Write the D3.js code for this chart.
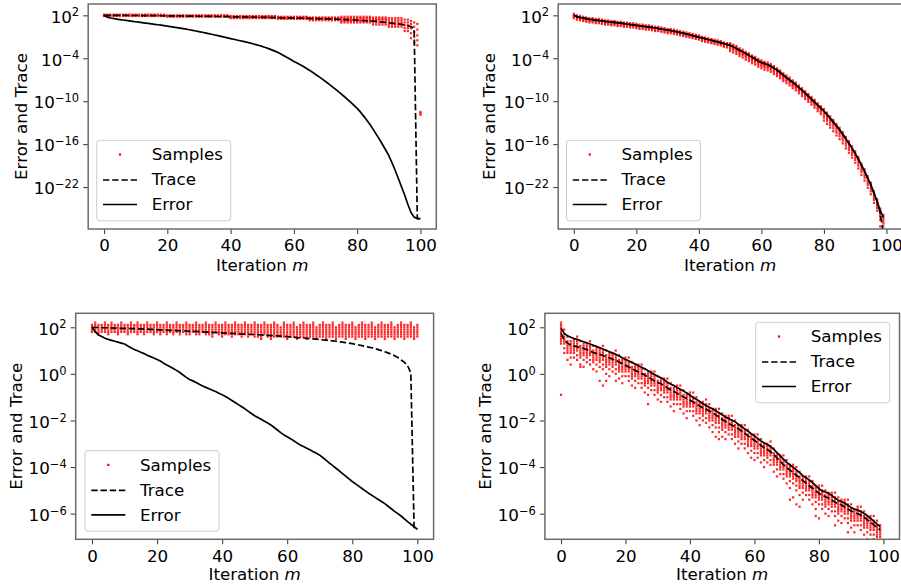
<!DOCTYPE html>
<html><head><meta charset="utf-8">
<script src="https://cdn.jsdelivr.net/npm/d3@7/dist/d3.min.js"></script>
<style>body{margin:0;background:#fff}svg{display:block}text{font-family:"DejaVu Sans",sans-serif;fill:#000}</style>
</head><body><svg id="c" width="901" height="588"></svg>
<script>
// ---------- data (log10 values, index = iteration m) ----------
const xTicks = [0, 20, 40, 60, 80, 100];
const yTicksTop = [2, -4, -10, -16, -22];      // exponents
const yTicksBottom = [2, 0, -2, -4, -6];       // exponents
const legendLabels = ["Samples", "Trace", "Error"];

// Panel A (top-left)
const errorA = [2.00,1.75,1.62,1.55,1.47,1.40,1.34,1.28,1.22,1.16,
1.10,1.04,0.98,0.92,0.86,0.80,0.74,0.68,0.62,0.56,
0.50,0.43,0.36,0.29,0.22,0.15,0.07,-0.02,-0.10,-0.19,
-0.28,-0.37,-0.46,-0.56,-0.65,-0.75,-0.85,-0.95,-1.05,-1.15,
-1.25,-1.35,-1.45,-1.55,-1.65,-1.75,-1.86,-1.98,-2.10,-2.22,
-2.35,-2.50,-2.66,-2.83,-3.01,-3.20,-3.44,-3.69,-3.94,-4.19,
-4.44,-4.67,-4.91,-5.16,-5.43,-5.70,-6.00,-6.30,-6.60,-6.92,
-7.25,-7.58,-7.92,-8.27,-8.63,-9.00,-9.38,-9.77,-10.17,-10.58,
-11.00,-11.50,-12.05,-12.62,-13.23,-13.90,-14.60,-15.30,-16.05,-16.82,
-17.60,-18.60,-19.65,-20.80,-21.95,-23.10,-24.40,-25.55,-26.20,-26.40,-26.40];
const traceA = [2.00,2.00,1.99,1.99,1.99,1.98,1.98,1.98,1.97,1.97,
1.97,1.97,1.96,1.96,1.96,1.95,1.95,1.94,1.94,1.93,
1.93,1.92,1.92,1.91,1.91,1.90,1.89,1.89,1.88,1.88,
1.87,1.86,1.86,1.85,1.84,1.84,1.83,1.82,1.81,1.81,
1.80,1.79,1.78,1.78,1.77,1.76,1.75,1.74,1.73,1.73,
1.72,1.71,1.70,1.69,1.68,1.67,1.66,1.65,1.64,1.63,
1.62,1.61,1.60,1.59,1.58,1.56,1.55,1.54,1.53,1.51,
1.50,1.49,1.47,1.46,1.44,1.43,1.41,1.39,1.37,1.35,
1.32,1.30,1.27,1.24,1.21,1.18,1.14,1.10,1.05,1.00,
0.95,0.90,0.85,0.80,0.73,0.65,0.55,0.42,0.10,-26.40,-26.40];
const samplesA = [
[2.1,2,1.9],[2.1,2,1.9],[2.1,2,1.9],[2.1,2,1.9],[2.1,2,1.9],[2.1,2,1.9],[2.1,2,1.9],[2.1,2,1.9],[2.1,2,1.9],[2.1,2,1.9],
[2.1,2,1.9],[2.1,2,1.9],[2.1,2,1.9],[2.1,2,1.9],[2.1,2,1.9],[2.1,2,1.9],[2.1,2,1.9],[2.1,2,1.9],[2.1,2,1.9],[2.1,2,1.9],
[2,1.9,1.8],[2,1.9,1.8],[2,1.9,1.8],[2,1.9,1.8],[2,1.9,1.8],[2,1.9,1.8],[2,1.9,1.8],[2,1.9,1.8],[2,1.9,1.8],[2,1.9,1.8],
[2,1.9,1.8],[2,1.9,1.8],[2,1.9,1.8],[2,1.9,1.8],[2,1.9,1.8],[2,1.9,1.8],[2,1.9,1.8],[2,1.9,1.8],[2,1.9,1.8],[2,1.9,1.8],
[1.9,1.8,1.7,1.6],[1.9,1.8,1.7,1.6],[1.9,1.8,1.7,1.6],[1.9,1.8,1.7,1.6],[1.9,1.8,1.7,1.6],[1.9,1.8,1.7,1.6],[1.9,1.8,1.7,1.6],[1.9,1.8,1.7,1.6],[1.9,1.8,1.7,1.6],[1.9,1.8,1.7,1.6],
[1.9,1.8,1.7,1.6],[1.9,1.8,1.7,1.6],[1.9,1.8,1.7,1.6],[1.9,1.8,1.7,1.6],[1.9,1.8,1.7,1.6],[1.8,1.7,1.6,1.5],[1.8,1.7,1.6,1.5],[1.8,1.7,1.6,1.5],[1.8,1.7,1.6,1.5],[1.8,1.7,1.6,1.5],
[1.8,1.7,1.6,1.5],[1.8,1.7,1.6,1.5],[1.8,1.7,1.6,1.5],[1.8,1.7,1.6,1.5],[1.8,1.7,1.6,1.5],[1.7,1.6,1.5,1.3],[1.7,1.6,1.5,1.3],[1.7,1.6,1.5,1.3],[1.7,1.6,1.5,1.3],[1.7,1.6,1.5,1.3],
[1.7,1.6,1.5,1.3],[1.7,1.6,1.5,1.3],[1.7,1.6,1.5,1.3],[1.7,1.6,1.5,1.3],[1.7,1.6,1.5,1.3],[1.8,1.6,1.4,1.2,1.0],[1.8,1.6,1.4,1.2,1.0],[1.8,1.6,1.4,1.2,1.0],[1.8,1.6,1.4,1.2,1.0],[1.8,1.6,1.4,1.2,1.0],
[1.8,1.6,1.4,1.2,1.0],[1.8,1.6,1.4,1.2,1.0],[1.8,1.6,1.4,1.2,1.0],[1.8,1.6,1.4,1.2,1.0],[1.8,1.6,1.4,1.2,1.0],[1.7,1.5,1.3,1.0,0.7],[1.7,1.5,1.3,1.0,0.7],[1.7,1.5,1.3,1.0,0.7],[1.7,1.5,1.3,1.0,0.7],[1.7,1.5,1.3,1.0,0.7],
[1.6,1.3,1.0,0.7,0.4],[1.6,1.3,1.0,0.7,0.4],[1.6,1.3,1.0,0.7,0.4],[1.6,1.3,1.0,0.7,0.4],[1.6,1.3,1.0,0.7,0.4],[1.4,1.0,0.6,0.2,-0.2],[1.4,1.0,0.6,0.2,-0.2],[1.2,0.8,0.2,-0.5,-1.2],[1.0,0.4,-0.3,-1.0,-1.8],[0.8,0.0,-0.8,-1.5,-2.2],
[-11.5,-11.7,-11.9]];

// Panel B (top-right)
const errorB = [2.00,1.80,1.70,1.61,1.53,1.45,1.39,1.33,1.27,1.21,
1.15,1.10,1.05,1.00,0.95,0.90,0.84,0.78,0.72,0.66,
0.60,0.54,0.48,0.42,0.36,0.30,0.23,0.16,0.09,0.02,
-0.05,-0.14,-0.23,-0.32,-0.41,-0.50,-0.61,-0.72,-0.83,-0.94,
-1.05,-1.16,-1.27,-1.38,-1.49,-1.60,-1.71,-1.83,-1.95,-2.07,
-2.20,-2.42,-2.64,-2.87,-3.11,-3.35,-3.60,-3.86,-4.12,-4.38,
-4.60,-4.75,-4.92,-5.12,-5.38,-5.65,-6.00,-6.35,-6.70,-7.02,
-7.35,-7.72,-8.10,-8.48,-8.88,-9.30,-9.72,-10.14,-10.56,-10.98,
-11.40,-11.90,-12.40,-12.92,-13.45,-14.00,-14.62,-15.25,-15.90,-16.60,
-17.30,-18.10,-18.95,-19.80,-20.75,-21.70,-22.85,-24.00,-25.30,-26.20];
const traceB = [2.00,1.80,1.70,1.61,1.53,1.45,1.39,1.33,1.27,1.21,
1.15,1.10,1.05,1.00,0.95,0.90,0.84,0.78,0.72,0.66,
0.60,0.54,0.48,0.42,0.36,0.30,0.23,0.16,0.09,0.02,
-0.05,-0.14,-0.23,-0.32,-0.41,-0.50,-0.61,-0.72,-0.83,-0.94,
-1.05,-1.16,-1.27,-1.38,-1.49,-1.60,-1.71,-1.83,-1.95,-2.07,
-2.20,-2.42,-2.64,-2.87,-3.11,-3.35,-3.60,-3.86,-4.12,-4.38,
-4.60,-4.75,-4.92,-5.12,-5.38,-5.65,-6.00,-6.35,-6.70,-7.02,
-7.35,-7.72,-8.10,-8.48,-8.88,-9.30,-9.72,-10.14,-10.56,-10.98,
-11.40,-11.90,-12.40,-12.92,-13.45,-14.00,-14.62,-15.25,-15.90,-16.60,
-17.30,-18.10,-18.95,-19.80,-20.75,-21.70,-22.85,-24.00,-25.60,-28.50];
const samplesB = [
[2.2,2.0,1.8,1.6],[2.0,1.8,1.6,1.4],[1.9,1.7,1.5,1.3],[1.8,1.6,1.4,1.2],[1.7,1.5,1.3,1.1],[1.6,1.4,1.2,1.0],[1.6,1.4,1.2,1.0],[1.5,1.3,1.1,0.9],[1.5,1.3,1.1,0.9],[1.4,1.2,1.0,0.8],
[1.3,1.1,0.9,0.7],[1.3,1.1,0.9,0.7],[1.2,1.0,0.8,0.6],[1.2,1.0,0.8,0.6],[1.1,0.9,0.7,0.5],[1.1,0.9,0.7,0.5],[1.0,0.8,0.6,0.4],[1.0,0.8,0.6,0.4],[0.9,0.7,0.5,0.3],[0.9,0.7,0.5,0.3],
[0.8,0.6,0.4,0.2],[0.7,0.5,0.3,0.1],[0.7,0.5,0.3,0.1],[0.6,0.4,0.2,0.0],[0.6,0.4,0.2,0.0],[0.5,0.3,0.1,-0.1],[0.4,0.2,0.0,-0.2],[0.4,0.2,0.0,-0.2],[0.3,0.1,-0.1,-0.3],[0.2,0.0,-0.2,-0.4],
[0.1,-0.1,-0.3,-0.5],[0.1,-0.1,-0.3,-0.5],[0.0,-0.2,-0.4,-0.6],[-0.1,-0.3,-0.5,-0.7],[-0.2,-0.4,-0.6,-0.8],[-0.3,-0.5,-0.7,-0.9],[-0.4,-0.6,-0.8,-1.0],[-0.5,-0.7,-0.9,-1.1],[-0.6,-0.8,-1.0,-1.2],[-0.7,-0.9,-1.1,-1.3],
[-0.8,-1.0,-1.2,-1.4],[-1.0,-1.2,-1.4,-1.6],[-1.1,-1.3,-1.5,-1.7],[-1.2,-1.4,-1.6,-1.8],[-1.3,-1.5,-1.7,-1.9],[-1.4,-1.6,-1.8,-2.0],[-1.5,-1.7,-1.9,-2.1],[-1.6,-1.8,-2.0,-2.2],[-1.8,-2.0,-2.2,-2.4],[-1.9,-2.1,-2.3,-2.5],
[-1.9,-2.1,-2.3,-2.5,-2.7,-3.0],[-2.1,-2.3,-2.5,-2.7,-2.9,-3.2],[-2.3,-2.5,-2.7,-2.9,-3.1,-3.4],[-2.6,-2.8,-3.0,-3.2,-3.4,-3.7],[-2.8,-3.0,-3.2,-3.4,-3.6,-3.9],[-3.1,-3.3,-3.5,-3.7,-3.9,-4.2],[-3.3,-3.5,-3.7,-3.9,-4.1,-4.4],[-3.6,-3.8,-4.0,-4.2,-4.4,-4.7],[-3.8,-4.0,-4.2,-4.4,-4.6,-4.9],[-4.1,-4.3,-4.5,-4.7,-4.9,-5.2],
[-4.3,-4.5,-4.7,-4.9,-5.1,-5.4],[-4.5,-4.7,-4.9,-5.1,-5.3,-5.6],[-4.6,-4.8,-5.0,-5.2,-5.4,-5.7],[-4.8,-5.0,-5.2,-5.4,-5.6,-5.9],[-5.1,-5.3,-5.5,-5.7,-5.9,-6.2],[-5.4,-5.6,-5.8,-6.0,-6.2,-6.5],[-5.7,-5.9,-6.1,-6.3,-6.5,-6.8],[-6.1,-6.3,-6.5,-6.7,-6.9,-7.2],[-6.4,-6.6,-6.8,-7.0,-7.2,-7.5],[-6.7,-6.9,-7.1,-7.3,-7.5,-7.8],
[-7.1,-7.3,-7.5,-7.7,-7.9,-8.2],[-7.4,-7.6,-7.8,-8.0,-8.2,-8.5],[-7.8,-8.0,-8.2,-8.4,-8.6,-8.9],[-8.2,-8.4,-8.6,-8.8,-9.0,-9.3],[-8.6,-8.8,-9.0,-9.2,-9.4,-9.7],[-9.0,-9.2,-9.4,-9.6,-9.8,-10.1],[-9.4,-9.6,-9.8,-10.0,-10.2,-10.5],[-9.8,-10.0,-10.2,-10.4,-10.6,-10.9],[-10.3,-10.5,-10.7,-10.9,-11.1,-11.4],[-10.7,-10.9,-11.1,-11.3,-11.5,-11.8],
[-11.1,-11.4,-11.7,-12.0,-12.3,-12.7],[-11.6,-11.9,-12.2,-12.5,-12.8,-13.2],[-12.1,-12.4,-12.7,-13.0,-13.3,-13.7],[-12.6,-12.9,-13.2,-13.5,-13.8,-14.2],[-13.2,-13.5,-13.8,-14.1,-14.4,-14.8],[-13.7,-14.0,-14.3,-14.6,-14.9,-15.3],[-14.3,-14.6,-14.9,-15.2,-15.5,-15.9],[-15.0,-15.3,-15.6,-15.9,-16.2,-16.6],[-15.6,-15.9,-16.2,-16.5,-16.8,-17.2],[-16.3,-16.6,-16.9,-17.2,-17.5,-17.9],
[-17.0,-17.3,-17.6,-17.9,-18.2,-18.6],[-17.8,-18.1,-18.4,-18.7,-19.0,-19.4],[-18.7,-19.0,-19.3,-19.6,-19.9,-20.3],[-19.5,-19.8,-20.1,-20.4,-20.7,-21.1],[-20.5,-20.8,-21.1,-21.4,-21.7,-22.1],[-21.4,-21.7,-22.0,-22.3,-22.6,-23.0],[-22.6,-22.9,-23.2,-23.5,-23.8,-24.2],[-23.7,-24.0,-24.3,-24.6,-24.9,-25.3],[-25.0,-25.3,-25.6,-25.9,-26.2,-26.6,-27.5],[-25.9,-26.2,-26.5,-26.8,-27.1,-27.5,-28.5]];

// Panel C (bottom-left)
const errorC = [2.00,1.81,1.67,1.60,1.53,1.48,1.44,1.40,1.36,1.32,
1.28,1.20,1.12,1.05,0.99,0.93,0.87,0.80,0.74,0.68,
0.62,0.55,0.46,0.38,0.31,0.23,0.15,0.06,-0.05,-0.15,
-0.24,-0.30,-0.37,-0.45,-0.52,-0.58,-0.64,-0.70,-0.76,-0.83,
-0.90,-0.97,-1.05,-1.14,-1.23,-1.32,-1.41,-1.50,-1.60,-1.70,
-1.80,-1.87,-1.95,-2.03,-2.11,-2.19,-2.30,-2.41,-2.52,-2.62,
-2.70,-2.78,-2.87,-2.96,-3.05,-3.12,-3.19,-3.26,-3.34,-3.41,
-3.49,-3.60,-3.71,-3.83,-3.94,-4.05,-4.16,-4.28,-4.39,-4.51,
-4.62,-4.72,-4.82,-4.92,-5.02,-5.12,-5.21,-5.30,-5.39,-5.48,
-5.57,-5.68,-5.79,-5.90,-6.00,-6.10,-6.22,-6.34,-6.45,-6.56,-6.67];
const traceC = [2.00,1.99,1.99,1.98,1.98,1.97,1.97,1.96,1.96,1.95,
1.95,1.95,1.94,1.94,1.93,1.93,1.92,1.92,1.91,1.91,
1.90,1.89,1.89,1.88,1.87,1.87,1.86,1.85,1.84,1.84,
1.83,1.82,1.82,1.81,1.80,1.79,1.79,1.78,1.77,1.77,
1.76,1.75,1.74,1.74,1.73,1.72,1.71,1.71,1.70,1.69,
1.69,1.68,1.67,1.66,1.65,1.64,1.64,1.63,1.62,1.61,
1.60,1.59,1.58,1.56,1.55,1.54,1.53,1.51,1.50,1.49,
1.48,1.46,1.45,1.43,1.42,1.40,1.38,1.36,1.34,1.32,
1.30,1.27,1.24,1.21,1.18,1.15,1.12,1.08,1.04,1.00,
0.95,0.90,0.84,0.78,0.70,0.60,0.50,0.35,0.05,-6.60,-6.67];
const samplesC = [
[2.1,2.0,1.9,1.8],[2.2,2.1,2.0,1.9,1.8],[2.1,2.0,1.9,1.8,1.7],[2.1,2.0,1.9,1.8],[2.2,2.1,2.0,1.9,1.8],[2.1,2.0,1.9,1.8,1.7],[2.2,2.1,2.0,1.9,1.8],[2.1,2.0,1.9,1.8],[2.1,2.0,1.9,1.8,1.7],[2.2,2.1,2.0,1.9,1.8],
[2.1,2.0,1.9,1.8],[2.1,2.0,1.9,1.8,1.7],[2.2,2.1,2.0,1.9,1.8],[2.1,2.0,1.9,1.8],[2.2,2.1,2.0,1.9,1.8,1.7],[2.1,2.0,1.9,1.8],[2.1,2.0,1.9,1.8,1.7],[2.2,2.1,2.0,1.9,1.8],[2.1,2.0,1.9,1.8],[2.1,2.0,1.9,1.8,1.7],
[2.2,2.1,2.0,1.9,1.8],[2.1,2.0,1.9,1.8,1.7],[2.1,2.0,1.9,1.8],[2.2,2.1,2.0,1.9,1.8,1.7],[2.1,2.0,1.9,1.8],[2.1,2.0,1.9,1.8,1.7],[2.2,2.1,2.0,1.9,1.8],[2.1,2.0,1.9,1.8,1.7],[2.1,2.0,1.9,1.8],[2.2,2.1,2.0,1.9,1.8,1.7],
[2.1,2.0,1.9,1.8,1.7],[2.1,2.0,1.9,1.8],[2.2,2.1,2.0,1.9,1.8,1.7],[2.1,2.0,1.9,1.8,1.7],[2.1,2.0,1.9,1.8],[2.2,2.1,2.0,1.9,1.8,1.7],[2.1,2.0,1.9,1.8,1.7],[2.1,2.0,1.9,1.8,1.7,1.6],[2.2,2.1,2.0,1.9,1.8],[2.1,2.0,1.9,1.8,1.7],
[2.1,2.0,1.9,1.8,1.7,1.6],[2.2,2.1,2.0,1.9,1.8,1.7],[2.1,2.0,1.9,1.8,1.7],[2.1,2.0,1.9,1.8,1.7,1.6],[2.2,2.1,2.0,1.9,1.8,1.7],[2.1,2.0,1.9,1.8,1.7],[2.1,2.0,1.9,1.8,1.7,1.6],[2.2,2.1,2.0,1.9,1.8,1.7],[2.1,2.0,1.9,1.8,1.7,1.6],[2.1,2.0,1.9,1.8,1.7],
[2.2,2.1,2.0,1.9,1.8,1.7,1.6],[2.1,2.0,1.9,1.8,1.7,1.6],[2.1,2.0,1.9,1.8,1.7,1.6,1.5],[2.2,2.1,2.0,1.9,1.8,1.7],[2.1,2.0,1.9,1.8,1.7,1.6],[2.1,2.0,1.9,1.8,1.7,1.6,1.5],[2.2,2.1,2.0,1.9,1.8,1.7,1.6],[2.1,2.0,1.9,1.8,1.7,1.6],[2.0,1.9,1.8,1.7,1.6],[2.2,2.1,2.0,1.9,1.8,1.7,1.6],
[2.1,2.0,1.9,1.8,1.7,1.6,1.5],[2.1,2.0,1.9,1.8,1.7,1.6],[2.2,2.1,2.0,1.9,1.8,1.7,1.6],[2.0,1.9,1.8,1.7,1.6,1.5],[2.1,2.0,1.9,1.8,1.7,1.6],[2.2,2.1,2.0,1.9,1.8,1.7,1.6],[2.1,2.0,1.9,1.8,1.7,1.6,1.5],[2.1,2.0,1.9,1.8,1.7,1.6],[2.2,2.1,2.0,1.9,1.8,1.7,1.6],[2.0,1.9,1.8,1.7,1.6,1.5],
[2.1,2.0,1.9,1.8,1.7,1.6],[2.2,2.1,2.0,1.9,1.8,1.7,1.6],[2.1,2.0,1.9,1.8,1.7,1.6,1.5],[2.1,2.0,1.9,1.8,1.7,1.6],[2.2,2.1,2.0,1.9,1.8,1.7,1.6],[2.0,1.9,1.8,1.7,1.6,1.5],[2.1,2.0,1.9,1.8,1.7,1.6],[2.2,2.1,2.0,1.9,1.8,1.7,1.6],[2.1,2.0,1.9,1.8,1.7,1.6,1.5],[2.1,2.0,1.9,1.8,1.7,1.6],
[2.2,2.1,2.0,1.9,1.8,1.7,1.6],[2.0,1.9,1.8,1.7,1.6,1.5],[2.1,2.0,1.9,1.8,1.7,1.6],[2.2,2.1,2.0,1.9,1.8,1.7,1.6],[2.1,2.0,1.9,1.8,1.7,1.6,1.5],[2.1,2.0,1.9,1.8,1.7,1.6],[2.2,2.1,2.0,1.9,1.8,1.7,1.6],[2.0,1.9,1.8,1.7,1.6,1.5],[2.1,2.0,1.9,1.8,1.7,1.6],[2.2,2.1,2.0,1.9,1.8,1.7,1.6],
[2.1,2.0,1.9,1.8,1.7,1.6,1.5],[2.1,2.0,1.9,1.8,1.7,1.6],[2.2,2.1,2.0,1.9,1.8,1.7,1.6],[2.0,1.9,1.8,1.7,1.6,1.5],[2.1,2.0,1.9,1.8,1.7,1.6],[2.2,2.1,2.0,1.9,1.8,1.7,1.6],[2.1,2.0,1.9,1.8,1.7,1.6,1.5],[2.1,2.0,1.9,1.8,1.7,1.6],[2.2,2.1,2.0,1.9,1.8,1.7,1.6],[2.0,1.9,1.8,1.7,1.6,1.5],
[2.1,2.0,1.9,1.8,1.7,1.6]];

// Panel D (bottom-right)
const errorD = [1.96,1.74,1.64,1.57,1.52,1.48,1.43,1.38,1.33,1.28,
1.23,1.18,1.12,1.07,1.01,0.95,0.89,0.84,0.77,0.69,
0.62,0.56,0.49,0.42,0.35,0.28,0.22,0.14,0.05,-0.03,
-0.10,-0.17,-0.25,-0.36,-0.44,-0.50,-0.58,-0.66,-0.74,-0.82,
-0.92,-1.01,-1.09,-1.18,-1.28,-1.36,-1.43,-1.50,-1.58,-1.67,
-1.76,-1.85,-1.92,-1.99,-2.06,-2.16,-2.26,-2.36,-2.46,-2.57,
-2.66,-2.77,-2.88,-2.96,-3.03,-3.12,-3.24,-3.38,-3.52,-3.66,
-3.80,-3.90,-4.01,-4.12,-4.24,-4.37,-4.46,-4.55,-4.67,-4.80,
-4.93,-5.02,-5.07,-5.13,-5.22,-5.33,-5.42,-5.48,-5.55,-5.64,
-5.74,-5.81,-5.85,-5.90,-5.99,-6.08,-6.20,-6.32,-6.44,-6.56];
const traceD = [1.74,1.45,1.32,1.24,1.20,1.16,1.12,1.09,1.04,0.98,
0.92,0.87,0.83,0.79,0.74,0.69,0.63,0.58,0.51,0.44,
0.37,0.30,0.22,0.15,0.08,0.02,-0.05,-0.14,-0.22,-0.30,
-0.37,-0.42,-0.50,-0.60,-0.69,-0.76,-0.83,-0.90,-0.99,-1.06,
-1.13,-1.21,-1.30,-1.38,-1.46,-1.52,-1.59,-1.67,-1.76,-1.85,
-1.96,-2.04,-2.12,-2.20,-2.27,-2.35,-2.45,-2.55,-2.66,-2.76,
-2.86,-2.96,-3.07,-3.17,-3.25,-3.34,-3.46,-3.61,-3.75,-3.90,
-4.03,-4.13,-4.24,-4.35,-4.46,-4.58,-4.69,-4.80,-4.91,-5.02,
-5.12,-5.21,-5.27,-5.33,-5.42,-5.51,-5.57,-5.63,-5.71,-5.80,
-5.89,-5.95,-6.00,-6.06,-6.15,-6.26,-6.37,-6.48,-6.59,-6.70];
const samplesD = [
[2.2,2.1,2.0,1.9,1.8,1.7,1.6,1.5,1.4,1.3,-0.9],[1.9,1.7,1.6,1.5,1.4,1.3,1.1,0.9],[1.6,1.4,1.3,1.2,1.1,1.0,0.9,0.6],[1.4,1.3,1.2,1.1,1.0,0.9,0.7,0.4],[1.5,1.4,1.3,1.2,1.1,1.0,0.9,0.7],[1.6,1.4,1.3,1.2,1.1,1.0,0.8,0.6],[1.4,1.2,1.1,1.0,0.9,0.8,0.7,0.4,0.3],[1.3,1.2,1.1,1.0,0.9,0.8,0.6,0.3],[1.3,1.2,1.1,1.0,0.9,0.8,0.7,0.5],[1.4,1.2,1.1,1.0,0.9,0.8,0.6,0.4],
[1.2,1.0,0.9,0.8,0.7,0.6,0.5,0.2],[1.1,1.0,0.9,0.8,0.7,0.6,0.4,0.1],[1.1,1.0,0.9,0.8,0.7,0.6,0.5,0.3,-0.3],[1.2,1.0,0.9,0.8,0.7,0.6,0.4,0.2,-0.5],[1.0,0.8,0.7,0.6,0.5,0.4,0.3,0.0,-0.3],[0.9,0.8,0.7,0.6,0.5,0.4,0.2,-0.1],[0.9,0.8,0.7,0.6,0.5,0.4,0.3,0.1],[1.0,0.8,0.7,0.6,0.5,0.4,0.2,0.0,-0.3],[0.8,0.6,0.5,0.4,0.3,0.2,0.1,-0.2],[0.6,0.5,0.4,0.3,0.2,0.1,-0.1,-0.4],
[0.7,0.6,0.5,0.4,0.3,0.2,0.1,-0.1],[0.7,0.5,0.4,0.3,0.2,0.1,-0.1,-0.3],[0.5,0.3,0.2,0.1,0.0,-0.1,-0.2,-0.5],[0.4,0.3,0.2,0.1,0.0,-0.1,-0.3,-0.6],[0.4,0.3,0.2,0.1,0.0,-0.1,-0.2,-0.4],[0.4,0.2,0.1,0.0,-0.1,-0.2,-0.4,-0.6],[0.2,0.0,-0.1,-0.2,-0.3,-0.4,-0.5,-0.8],[0.1,0.0,-0.1,-0.2,-0.3,-0.4,-0.6,-0.9,-1.3],[0.1,0.0,-0.1,-0.2,-0.3,-0.4,-0.5,-0.7],[0.1,-0.1,-0.2,-0.3,-0.4,-0.5,-0.7,-0.9],
[-0.1,-0.3,-0.4,-0.5,-0.6,-0.7,-0.8,-1.1],[-0.2,-0.3,-0.4,-0.5,-0.6,-0.7,-0.9,-1.2],[-0.2,-0.3,-0.4,-0.5,-0.6,-0.7,-0.8,-1.0],[-0.2,-0.4,-0.5,-0.6,-0.7,-0.8,-1.0,-1.2],[-0.4,-0.6,-0.7,-0.8,-0.9,-1.0,-1.1,-1.4],[-0.6,-0.7,-0.8,-0.9,-1.0,-1.1,-1.3,-1.6],[-0.5,-0.6,-0.7,-0.8,-0.9,-1.0,-1.1,-1.3],[-0.5,-0.7,-0.8,-0.9,-1.0,-1.1,-1.3,-1.5],[-0.7,-0.9,-1.0,-1.1,-1.2,-1.3,-1.4,-1.7],[-0.9,-1.0,-1.1,-1.2,-1.3,-1.4,-1.6,-1.9],
[-0.8,-0.9,-1.0,-1.1,-1.2,-1.3,-1.4,-1.6],[-0.8,-1.0,-1.1,-1.2,-1.3,-1.4,-1.6,-1.8],[-1.0,-1.2,-1.3,-1.4,-1.5,-1.6,-1.7,-2.0],[-1.2,-1.3,-1.4,-1.5,-1.6,-1.7,-1.9,-2.2],[-1.2,-1.3,-1.4,-1.5,-1.6,-1.7,-1.8,-2.0],[-1.1,-1.3,-1.4,-1.5,-1.6,-1.7,-1.9,-2.1],[-1.3,-1.5,-1.6,-1.7,-1.8,-1.9,-2.0,-2.3],[-1.5,-1.6,-1.7,-1.8,-1.9,-2.0,-2.2,-2.5],[-1.5,-1.6,-1.7,-1.8,-1.9,-2.0,-2.1,-2.3,-2.7],[-1.5,-1.7,-1.8,-1.9,-2.0,-2.1,-2.3,-2.5,-2.8],
[-1.7,-1.9,-2.0,-2.1,-2.2,-2.3,-2.4,-2.7],[-1.8,-1.9,-2.0,-2.1,-2.2,-2.3,-2.5,-2.8],[-1.8,-1.9,-2.0,-2.1,-2.2,-2.3,-2.4,-2.6],[-1.8,-2.0,-2.1,-2.2,-2.3,-2.4,-2.6,-2.8],[-2.0,-2.2,-2.3,-2.4,-2.5,-2.6,-2.7,-3.0],[-2.2,-2.3,-2.4,-2.5,-2.6,-2.7,-2.9,-3.2],[-2.2,-2.3,-2.4,-2.5,-2.6,-2.7,-2.8,-3.0],[-2.2,-2.4,-2.5,-2.6,-2.7,-2.8,-3.0,-3.2],[-2.4,-2.6,-2.7,-2.8,-2.9,-3.0,-3.1,-3.4],[-2.6,-2.7,-2.8,-2.9,-3.0,-3.1,-3.3,-3.6],
[-2.6,-2.7,-2.8,-2.9,-3.0,-3.1,-3.2,-3.4,-3.7],[-2.6,-2.8,-2.9,-3.0,-3.1,-3.2,-3.4,-3.6],[-2.8,-3.0,-3.1,-3.2,-3.3,-3.4,-3.5,-3.8],[-3.0,-3.1,-3.2,-3.3,-3.4,-3.5,-3.7,-4.0],[-3.0,-3.1,-3.2,-3.3,-3.4,-3.5,-3.6,-3.8],[-2.9,-3.1,-3.2,-3.3,-3.4,-3.5,-3.7,-3.9],[-3.2,-3.4,-3.5,-3.6,-3.7,-3.8,-3.9,-4.2],[-3.4,-3.5,-3.6,-3.7,-3.8,-3.9,-4.1,-4.4],[-3.5,-3.6,-3.7,-3.8,-3.9,-4.0,-4.1,-4.3],[-3.5,-3.7,-3.8,-3.9,-4.0,-4.1,-4.3,-4.5],
[-3.7,-3.9,-4.0,-4.1,-4.2,-4.3,-4.4,-4.7],[-3.9,-4.0,-4.1,-4.2,-4.3,-4.4,-4.6,-4.9,-5.4],[-3.9,-4.0,-4.1,-4.2,-4.3,-4.4,-4.5,-4.7,-5.3],[-4.0,-4.2,-4.3,-4.4,-4.5,-4.6,-4.8,-5.0,-5.6],[-4.2,-4.4,-4.5,-4.6,-4.7,-4.8,-4.9,-5.2,-5.7],[-4.4,-4.5,-4.6,-4.7,-4.8,-4.9,-5.1,-5.4],[-4.4,-4.5,-4.6,-4.7,-4.8,-4.9,-5.0,-5.2],[-4.4,-4.6,-4.7,-4.8,-4.9,-5.0,-5.2,-5.4],[-4.6,-4.8,-4.9,-5.0,-5.1,-5.2,-5.3,-5.6],[-4.8,-4.9,-5.0,-5.1,-5.2,-5.3,-5.5,-5.8,-6.1],
[-4.8,-4.9,-5.0,-5.1,-5.2,-5.3,-5.4,-5.6,-6.2],[-4.8,-5.0,-5.1,-5.2,-5.3,-5.4,-5.6,-5.8],[-5.0,-5.2,-5.3,-5.4,-5.5,-5.6,-5.7,-6.0],[-5.1,-5.2,-5.3,-5.4,-5.5,-5.6,-5.8,-6.1],[-5.1,-5.2,-5.3,-5.4,-5.5,-5.6,-5.7,-5.9],[-5.1,-5.3,-5.4,-5.5,-5.6,-5.7,-5.9,-6.1,-6.5],[-5.3,-5.5,-5.6,-5.7,-5.8,-5.9,-6.0,-6.3],[-5.4,-5.5,-5.6,-5.7,-5.8,-5.9,-6.1,-6.4],[-5.4,-5.5,-5.6,-5.7,-5.8,-5.9,-6.0,-6.2],[-5.4,-5.6,-5.7,-5.8,-5.9,-6.0,-6.2,-6.4,-6.8],
[-5.6,-5.8,-5.9,-6.0,-6.1,-6.2,-6.3,-6.6],[-5.8,-5.9,-6.0,-6.1,-6.2,-6.3,-6.5,-6.8],[-5.7,-5.8,-5.9,-6.0,-6.1,-6.2,-6.3,-6.5],[-5.7,-5.9,-6.0,-6.1,-6.2,-6.3,-6.5,-6.7],[-5.9,-6.1,-6.2,-6.3,-6.4,-6.5,-6.6,-6.9],[-6.1,-6.2,-6.3,-6.4,-6.5,-6.6,-6.8,-7.1],[-6.1,-6.2,-6.3,-6.4,-6.5,-6.6,-6.7,-6.9],[-6.1,-6.3,-6.4,-6.5,-6.6,-6.7,-6.9,-7.1],[-6.3,-6.5,-6.6,-6.7,-6.8,-6.9,-7.0,-7.3],[-6.5,-6.6,-6.7,-6.8,-6.9,-7.0,-7.2]];

// ---------- layout ----------
const panels = [
  {err:errorA, tr:traceA, smp:samplesA, L:88.2, R:436.3, T:4, B:229, yExp:[-27.86,3.58], yTicks:yTicksTop, leg:[96.7,140.3], ylabX:26.5, xlabY:270.5},
  {err:errorB, tr:traceB, smp:samplesB, L:558.2, R:902.1, T:4, B:229, yExp:[-27.86,3.58], yTicks:yTicksTop, leg:[566.5,140.3], ylabX:495, xlabY:270.5},
  {err:errorC, tr:traceC, smp:samplesC, L:75.7, R:433.6, T:313.3, B:539.3, yExp:[-7.1,2.6], yTicks:yTicksBottom, leg:[85,450.7], ylabX:21.7, xlabY:580},
  {err:errorD, tr:traceD, smp:samplesD, L:544.9, R:899.5, T:313.3, B:539.3, yExp:[-7.1,2.6], yTicks:yTicksBottom, leg:[755.7,322.3], ylabX:490.7, xlabY:580}
];

const svg = d3.select("#c");
const FS = 16.7, SUP = 11.5, LW = 1.7, DASH = "6.4,2.8", DOT = 2.2;
const p10 = v => Math.pow(10, v);

panels.forEach((p, k) => {
  const x = d3.scaleLinear().domain([-5, 105]).range([p.L, p.R]);
  const y = d3.scaleLog().domain([p10(p.yExp[0]), p10(p.yExp[1])]).range([p.B, p.T]);
  const g = svg.append("g");
  const cid = "clip" + k;
  svg.append("clipPath").attr("id", cid).append("rect")
    .attr("x", p.L).attr("y", p.T).attr("width", p.R - p.L).attr("height", p.B - p.T);
  const plot = g.append("g").attr("clip-path", `url(#${cid})`);

  // samples
  const pts = [];
  p.smp.forEach((arr, m) => arr.forEach(v => pts.push([m, v])));
  plot.append("g").selectAll("rect").data(pts).join("rect")
    .attr("x", d => x(d[0]) - DOT / 2).attr("y", d => y(p10(d[1])) - DOT / 2)
    .attr("width", DOT).attr("height", DOT).attr("fill", "#ff0000").attr("opacity", 0.85);

  const line = d3.line().x((d, i) => x(i)).y(d => y(p10(d)));
  plot.append("path").datum(p.tr).attr("d", line).attr("fill", "none")
    .attr("stroke", "#000").attr("stroke-width", LW).attr("stroke-dasharray", DASH);
  plot.append("path").datum(p.err).attr("d", line).attr("fill", "none")
    .attr("stroke", "#000").attr("stroke-width", LW).attr("stroke-linejoin", "round");

  // x axis
  const xa = g.append("g").attr("transform", `translate(0,${p.B})`)
    .call(d3.axisBottom(x).tickValues(xTicks).tickSize(5).tickPadding(5.5).tickFormat(d3.format("d")));
  xa.select(".domain").remove();
  xa.selectAll("line").attr("stroke", "#444").attr("stroke-width", 1.1);
  xa.selectAll("text").attr("font-size", FS).attr("fill", "#000").attr("font-family", "DejaVu Sans");

  // y axis
  const ya = g.append("g").attr("transform", `translate(${p.L},0)`)
    .call(d3.axisLeft(y).tickValues(p.yTicks.map(p10)).tickSize(5).tickPadding(4));
  ya.select(".domain").remove();
  ya.selectAll("line").attr("stroke", "#444").attr("stroke-width", 1.1);
  ya.selectAll(".tick text").each(function(d) {
    const e = Math.round(Math.log10(d));
    const t = d3.select(this).text(null).attr("dy", null).attr("y", 6.8)
      .attr("font-size", FS).attr("fill", "#000").attr("font-family", "DejaVu Sans");
    t.append("tspan").text("10");
    t.append("tspan").attr("dy", -6.2).attr("font-size", SUP).text(e < 0 ? "\u2212" + (-e) : String(e));
  });

  // spines
  g.append("rect").attr("x", p.L).attr("y", p.T).attr("width", p.R - p.L).attr("height", p.B - p.T)
    .attr("fill", "none").attr("stroke", "#6a6a6a").attr("stroke-width", 1.5);

  // labels
  g.append("text").attr("transform", `translate(${p.ylabX},${(p.T + p.B) / 2}) rotate(-90)`)
    .attr("text-anchor", "middle").attr("font-size", FS).text("Error and Trace");
  const xl = g.append("text").attr("x", (p.L + p.R) / 2).attr("y", p.xlabY)
    .attr("text-anchor", "middle").attr("font-size", FS);
  xl.append("tspan").text("Iteration ");
  xl.append("tspan").attr("font-style", "italic").text("m");

  // legend
  const [lx, ly] = p.leg;
  const lg = g.append("g").attr("transform", `translate(${lx},${ly})`);
  lg.append("rect").attr("width", 134).attr("height", 80.5).attr("rx", 3)
    .attr("fill", "#fff").attr("fill-opacity", 0.8).attr("stroke", "#cccccc").attr("stroke-width", 1);
  lg.append("rect").attr("x", 23.3 - DOT / 2).attr("y", 14.2 - DOT / 2).attr("width", DOT).attr("height", DOT).attr("fill", "#ff0000");
  lg.append("line").attr("x1", 6.3).attr("x2", 40.3).attr("y1", 39.7).attr("y2", 39.7)
    .attr("stroke", "#000").attr("stroke-width", LW).attr("stroke-dasharray", DASH);
  lg.append("line").attr("x1", 6.3).attr("x2", 40.3).attr("y1", 64.2).attr("y2", 64.2)
    .attr("stroke", "#000").attr("stroke-width", LW);
  legendLabels.forEach((s, i) => {
    lg.append("text").attr("x", 55).attr("y", 20.2 + 25 * i).attr("font-size", FS).text(s);
  });
});
</script></body></html>
